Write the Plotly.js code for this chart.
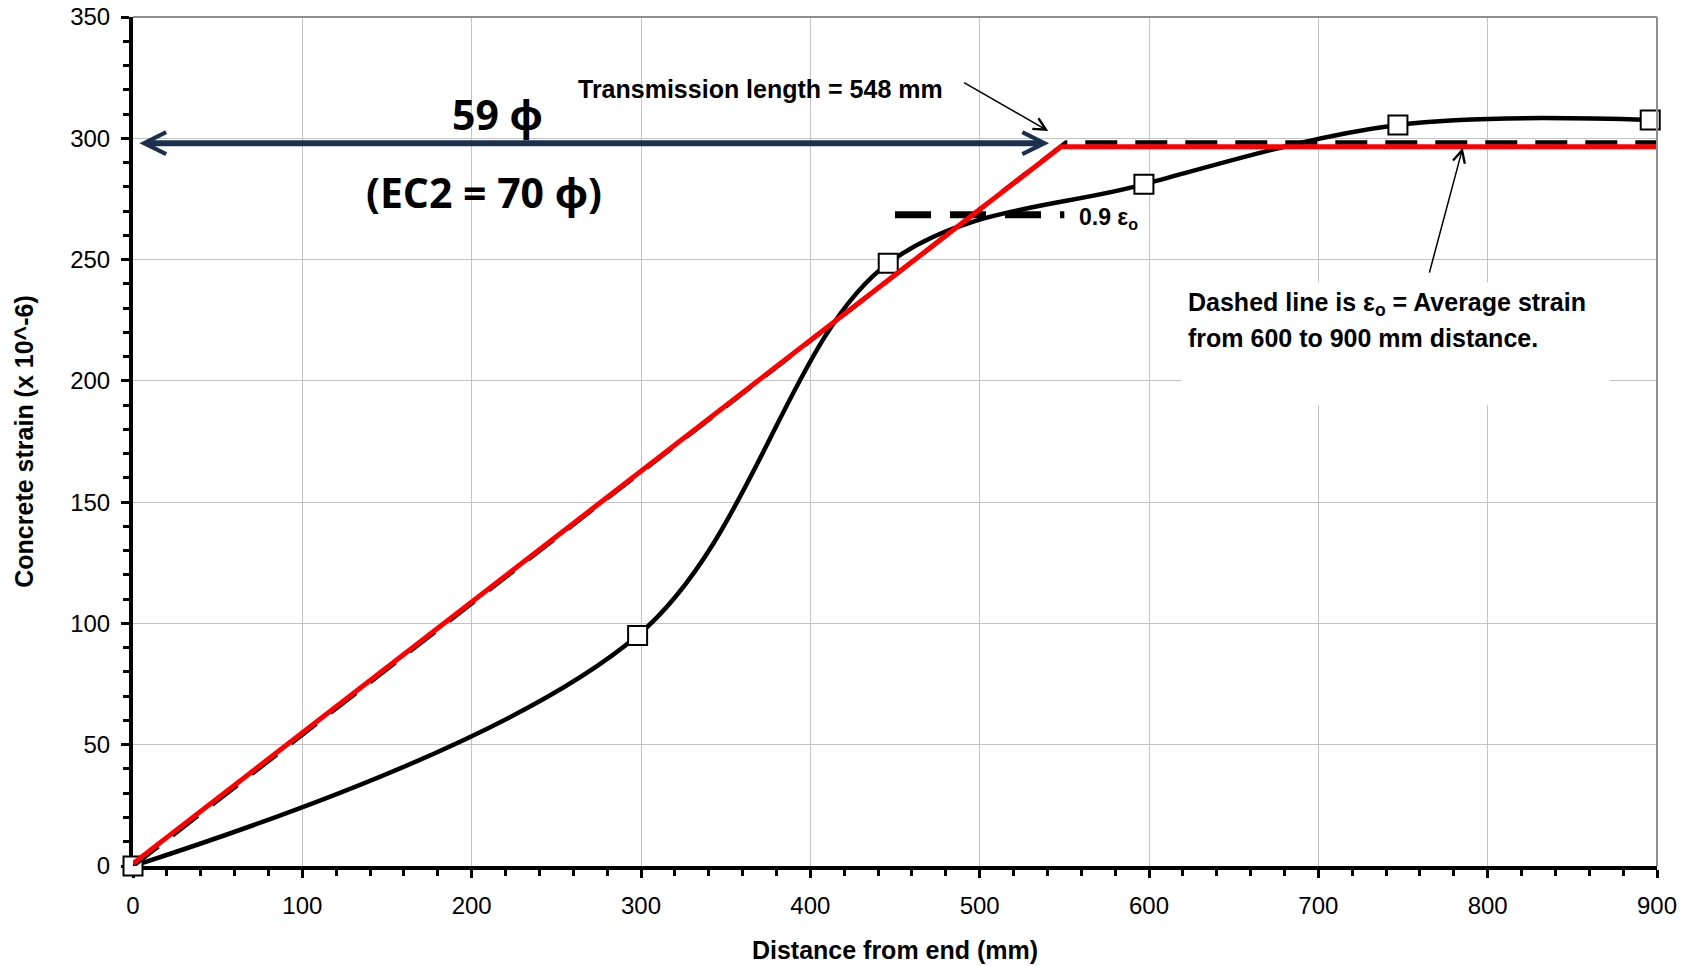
<!DOCTYPE html>
<html>
<head>
<meta charset="utf-8">
<script src="https://cdn.plot.ly/plotly-3.0.1.min.js"></script>
<style>html,body{margin:0;padding:0;background:#fff;}</style>
</head>
<body>
<div id="chart" style="width:1692px;height:966px;"></div>
<script>
// ---- data ----
const distance = [0, 298, 446, 597, 747, 896];          // mm
const strain   = [0, 95, 248.5, 281, 305.5, 307.5];      // x10^-6

const bilinearX = [0, 548, 900];                          // red idealised line
const bilinearY = [1, 296.5, 296.5];

const avgLineX = [0, 551, 900];                           // dashed eps_o line
const avgLineY = [0, 298.3, 298.3];

const ninetyX = [450, 550];                               // 0.9 eps_o dashed
const ninetyY = [268.5, 268.5];

const xTicks = [0, 100, 200, 300, 400, 500, 600, 700, 800, 900];
const yTicks = [0, 50, 100, 150, 200, 250, 300, 350];

const FONT = "'Liberation Sans', Arial, sans-serif";
const BIG = "'Open Sans', 'Noto Sans', sans-serif";

const traces = [
  {x: distance, y: strain, type: 'scatter', mode: 'lines+markers',
   line: {color: '#000', width: 4.5, shape: 'spline', smoothing: 1},
   marker: {symbol: 'square', size: 19, color: '#fff', line: {color: '#000', width: 2}},
   cliponaxis: false, hoverinfo: 'x+y'},
  {x: ninetyX, y: ninetyY, type: 'scatter', mode: 'lines',
   line: {color: '#000', width: 7, dash: '36px,19px'}},
  {x: avgLineX, y: avgLineY, type: 'scatter', mode: 'lines',
   line: {color: '#000', width: 4.5, dash: '32px,18px'}},
  {x: bilinearX, y: bilinearY, type: 'scatter', mode: 'lines',
   line: {color: '#ff0000', width: 5}, cliponaxis: false}
];

const axisCommon = {
  showgrid: true, gridcolor: '#c4c4c4', gridwidth: 1,
  showline: true, linecolor: '#000', linewidth: 4,
  ticks: 'outside', ticklen: 8, tickwidth: 3, tickcolor: '#000',
  zeroline: false, fixedrange: true, layer: 'below traces',
  tickfont: {family: FONT, size: 24, color: '#000'}
};

const layout = {
  width: 1692, height: 966,
  margin: {l: 133, r: 35, t: 17, b: 100},
  paper_bgcolor: '#fff', plot_bgcolor: '#fff',
  showlegend: false,
  xaxis: Object.assign({}, axisCommon, {
    range: [0, 900], tickvals: xTicks, ticktext: xTicks.map(String),
    ticklabelstandoff: 7,
    minor: {dtick: 20, tick0: 0, ticks: 'outside', ticklen: 6, tickwidth: 3, tickcolor: '#000', showgrid: false},
    title: {text: '<b>Distance from end (mm)</b>', font: {family: FONT, size: 25, color: '#000'}, standoff: 25}
  }),
  yaxis: Object.assign({}, axisCommon, {
    range: [0, 350], tickvals: yTicks, ticktext: yTicks.map(String),
    ticklabelstandoff: 6,
    minor: {dtick: 10, tick0: 0, ticks: 'outside', ticklen: 6, tickwidth: 3, tickcolor: '#000', showgrid: false},
    title: {text: '<b>Concrete strain (x 10^-6)</b>', font: {family: FONT, size: 25, color: '#000'}, standoff: 30}
  }),
  shapes: [
    {type: 'rect', xref: 'x', yref: 'y', x0: 619, x1: 872, y0: 190, y1: 240.5,
     fillcolor: '#fff', line: {width: 0}, layer: 'between'},
    {type: 'line', xref: 'paper', yref: 'paper', x0: 0, x1: 1, y0: 1, y1: 1,
     line: {color: '#8f8f8f', width: 2}},
    {type: 'line', xref: 'paper', yref: 'paper', x0: 1, x1: 1, y0: 0, y1: 1,
     line: {color: '#8f8f8f', width: 2}}
  ],
  annotations: [
    // navy double arrow (59 phi)
    {xref: 'x', yref: 'y', axref: 'x', ayref: 'y', x: 541, y: 298, ax: 2, ay: 298,
     text: ' ', showarrow: true, arrowside: 'end+start', arrowhead: 5, startarrowhead: 5,
     arrowsize: 0.72, startarrowsize: 0.72, arrowwidth: 6, arrowcolor: '#1b2f4e'},
    {xref: 'x', yref: 'y', x: 215, y: 310, text: '<b>59 ϕ</b>', showarrow: false,
     font: {family: BIG, size: 41, color: '#000'}},
    {xref: 'x', yref: 'y', x: 207, y: 278, text: '<b>(EC2 = 70 ϕ)</b>', showarrow: false,
     font: {family: BIG, size: 41, color: '#000'}},
    // transmission length
    {xref: 'x', yref: 'y', x: 370.6, y: 320.5, text: '<b>Transmission length = 548 mm</b>', showarrow: false,
     font: {family: FONT, size: 25, color: '#000'}},
    {xref: 'x', yref: 'y', axref: 'x', ayref: 'y', x: 540.5, y: 303, ax: 489, ay: 323.7,
     text: ' ', showarrow: true, arrowhead: 5, arrowsize: 1.6, arrowwidth: 1.5, arrowcolor: '#000'},
    // 0.9 eps_o
    {xref: 'x', yref: 'y', x: 557.5, y: 266.8, xanchor: 'left', text: '<b>0.9 ε<sub>o</sub></b>', showarrow: false,
     font: {family: FONT, size: 23, color: '#000'}},
    // dashed line explanation
    {xref: 'x', yref: 'y', x: 622, y: 231.8, xanchor: 'left', text: '<b>Dashed line is ε<sub>o</sub> = Average strain</b>', showarrow: false,
     font: {family: FONT, size: 25, color: '#000'}},
    {xref: 'x', yref: 'y', x: 622, y: 217.7, xanchor: 'left', text: '<b>from 600 to 900 mm distance.</b>', showarrow: false,
     font: {family: FONT, size: 25, color: '#000'}},
    {xref: 'x', yref: 'y', axref: 'x', ayref: 'y', x: 785.3, y: 296.1, ax: 764, ay: 240.5,
     text: ' ', showarrow: true, arrowhead: 5, arrowsize: 1.6, arrowwidth: 1.5, arrowcolor: '#000'}
  ]
};

Plotly.newPlot('chart', traces, layout, {displayModeBar: false, staticPlot: true});
</script>
</body>
</html>
